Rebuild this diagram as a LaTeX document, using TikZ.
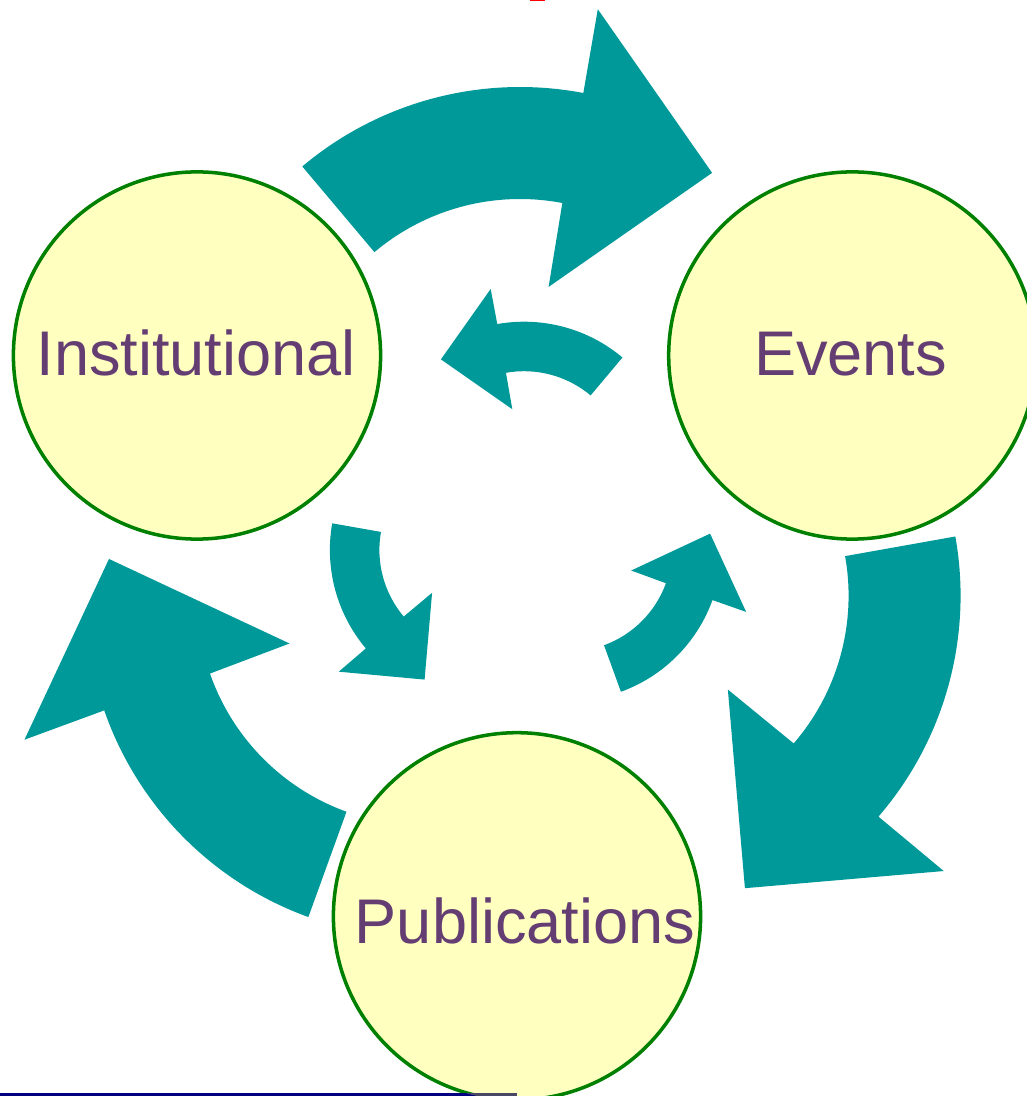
\documentclass[tikz,border=0pt]{standalone}
\usepackage{fontspec}
\setmainfont{Liberation Sans}

\definecolor{arrowteal}{RGB}{0,153,153}
\definecolor{hubyellow}{RGB}{255,255,192}
\definecolor{hubgreen}{RGB}{0,128,0}
\definecolor{labelpurple}{RGB}{100,62,115}
\definecolor{rulenavy}{RGB}{0,0,128}
\definecolor{rulegray}{RGB}{72,72,100}

\begin{document}
\begin{tikzpicture}[x=0.01cm, y=0.01cm,
	hub/.style={circle, draw=hubgreen, line width=1pt, fill=hubyellow, minimum size=3.67cm, inner sep=0pt},
	hublabel/.style={anchor=base, text=labelpurple, font=\fontsize{17.95}{22}\selectfont},
	bigarrow/.style={fill=arrowteal},
	smallarrow/.style={fill=arrowteal}]
	\useasboundingbox (0,0) rectangle (1027,1096);
	
	% THE THREE CIRCLES
	
	\node [hub] (inst) at (197,740.5) {};
	\node [hub] (events) at (852.3,740.5) {};
	\node [hub] (pub) at (517,179.7) {};
	
	% Labels, set on their baselines
	\node [hublabel] (instlabel) at (196.2,720.5) {Institutional};
	\node [hublabel] (eventslabel) at (850.5,720) {Events};
	\node [hublabel] (publabel) at (525,152.7) {Publications};
	
	% OUTER RING
	
	% one curved arrow round its own centre, turned clockwise about the ring centre
	\foreach \turn in {0,-120,-240} {
		\begin{scope}[rotate around={\turn:(522,556)}, shift={(520,671)}]
			\fill [bigarrow] (130.1:338) arc [start angle=130.1, end angle=79.2, radius=338]
				-- (79.4:423) -- (52.7:317) -- (78.3:141)
				-- (79.2:226) arc [start angle=79.2, end angle=130.1, radius=226] -- cycle;
		\end{scope}
	}
	
	% INNER RING
	
	% same idea, smaller, running the other way
	\foreach \turn in {0,120,240} {
		\begin{scope}[rotate around={\turn:(525.2,571.8)}, shift={(524.1,621.3)}]
			\fill [smallarrow] (50:153) arc [start angle=50, end angle=100.1, radius=153]
				-- (100.2:188.7) -- (125.8:142.2) -- (100.2:66.5)
				-- (100.1:103.5) arc [start angle=100.1, end angle=50, radius=103.5] -- cycle;
		\end{scope}
	}
	
	% Rule along the bottom edge
	\fill [rulenavy] (0,0) rectangle (516.7,3.3);
	\begin{scope}
		\clip (pub) circle [radius=184];
		\fill [rulegray] (0,0) rectangle (516.7,3.3);
	\end{scope}
	
	% Red mark at the top edge
	\fill [red] (530,1094.5) rectangle (545,1096);
	
\end{tikzpicture}
\end{document}
